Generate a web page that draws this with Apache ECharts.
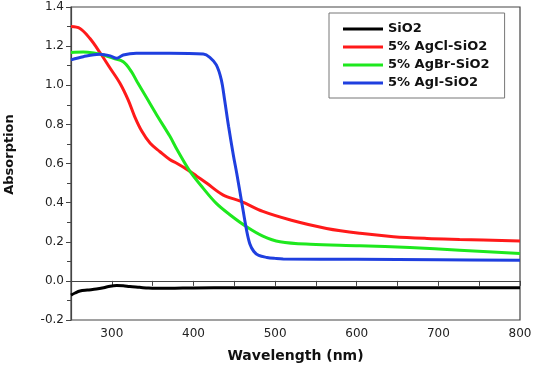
<!DOCTYPE html>
<html>
<head>
<meta charset="utf-8">
<script src="https://cdn.jsdelivr.net/npm/echarts@6/dist/echarts.min.js"></script>
<style>
  html, body { margin: 0; padding: 0; background: #fff; }
  #chart { width: 533px; height: 367px; }
</style>
</head>
<body>
<div id="chart"></div>
<script>
// series names
const seriesNames = ["SiO2", "5% AgCl-SiO2", "5% AgBr-SiO2", "5% AgI-SiO2"];

// SiO2
const blackX = [250, 255, 261, 270, 281, 290, 298, 306, 314, 322, 334, 345, 355, 370, 400, 450, 500, 600, 700, 800];
const blackY = [-0.073, -0.062, -0.052, -0.047, -0.042, -0.035, -0.027, -0.024, -0.025, -0.029, -0.033, -0.037, -0.038, -0.038, -0.036, -0.035, -0.035, -0.035, -0.035, -0.035];

// AgCl
const redX = [250, 261, 273, 285, 298, 310, 320, 328, 337, 347, 359, 371, 380, 392, 404, 416, 436, 459, 485, 520, 563, 604, 645, 686, 726, 800];
const redY = [1.30, 1.29, 1.24, 1.17, 1.087, 1.01, 0.925, 0.84, 0.763, 0.703, 0.66, 0.62, 0.60, 0.57, 0.535, 0.50, 0.44, 0.405, 0.355, 0.31, 0.268, 0.243, 0.226, 0.217, 0.212, 0.204];

// AgBr
const greenX = [250, 265, 278, 290, 302, 314, 324, 331, 343, 355, 371, 380, 396, 412, 428, 445, 465, 485, 506, 543, 604, 665, 726, 800];
const greenY = [1.168, 1.17, 1.165, 1.155, 1.138, 1.12, 1.07, 1.018, 0.933, 0.848, 0.74, 0.67, 0.558, 0.473, 0.396, 0.337, 0.277, 0.229, 0.20, 0.187, 0.18, 0.17, 0.157, 0.14];

// AgI
const blueX = [250, 265, 285, 298, 306, 314, 330, 371, 412, 420, 428, 434, 438, 443, 449, 453, 459, 465, 469, 474, 480, 490, 500, 510, 600, 700, 800];
const blueY = [1.13, 1.146, 1.158, 1.15, 1.138, 1.155, 1.164, 1.164, 1.16, 1.143, 1.104, 1.03, 0.93, 0.79, 0.64, 0.55, 0.405, 0.26, 0.19, 0.15, 0.13, 0.12, 0.115, 0.112, 0.11, 0.108, 0.106];

const colors = ["#000000", "#ff1a1a", "#1ee81e", "#1f3fdf"];

const pairs = (xs, ys) => xs.map((x, i) => [x, ys[i]]);
const allData = [pairs(blackX, blackY), pairs(redX, redY), pairs(greenX, greenY), pairs(blueX, blueY)];

const chart = echarts.init(document.getElementById("chart"));
chart.setOption({
  animation: false,
  textStyle: { fontFamily: "DejaVu Sans" },
  grid: {
    left: 71, right: 13, top: 7, bottom: 47,
    outerBoundsMode: "none",
    containLabel: false,
    show: true, borderColor: "#444", borderWidth: 1.2
  },
  legend: {
    data: seriesNames,
    left: 329, top: 13,
    orient: "vertical",
    padding: [9, 15, 8, 14],
    borderColor: "#777", borderWidth: 1,
    icon: "rect",
    itemWidth: 40, itemHeight: 3, itemGap: 4,
    textStyle: { fontSize: 13, fontWeight: "bold", color: "#111", lineHeight: 14, fontFamily: "DejaVu Sans" }
  },
  xAxis: {
    type: "value",
    min: 250, max: 800, interval: 50,
    name: "Wavelength (nm)",
    nameLocation: "middle", nameGap: 29,
    nameTextStyle: { fontSize: 14, fontWeight: "bold", color: "#111" },
    axisLine: { lineStyle: { color: "#444", width: 1.2 } },
    axisTick: { length: 5, lineStyle: { color: "#444" } },
    axisLabel: {
      fontSize: 12, color: "#222", margin: 8,
      formatter: v => (v % 100 === 0 ? String(v) : "")
    },
    splitLine: { show: false }
  },
  yAxis: {
    type: "value",
    min: -0.2, max: 1.4, interval: 0.2,
    name: "Absorption",
    nameLocation: "middle", nameGap: 55,
    nameTextStyle: { fontSize: 13, fontWeight: "bold", color: "#111", padding: [0, 0, 0, 18] },
    axisLine: { show: true, lineStyle: { color: "#444", width: 1.2 } },
    axisTick: { show: true, length: 5, lineStyle: { color: "#444" } },
    minorTick: { show: true, splitNumber: 2, length: 4, lineStyle: { color: "#444" } },
    axisLabel: { fontSize: 12, color: "#222", margin: 7, formatter: v => v.toFixed(1) },
    splitLine: { show: false }
  },
  series: seriesNames.map((name, i) => ({
    name: name,
    type: "line",
    data: allData[i],
    smooth: 0.35,
    showSymbol: false,
    color: colors[i],
    lineStyle: { width: 3, color: colors[i] },
    z: i === 3 ? 5 : 3
  }))
});
</script>
</body>
</html>
